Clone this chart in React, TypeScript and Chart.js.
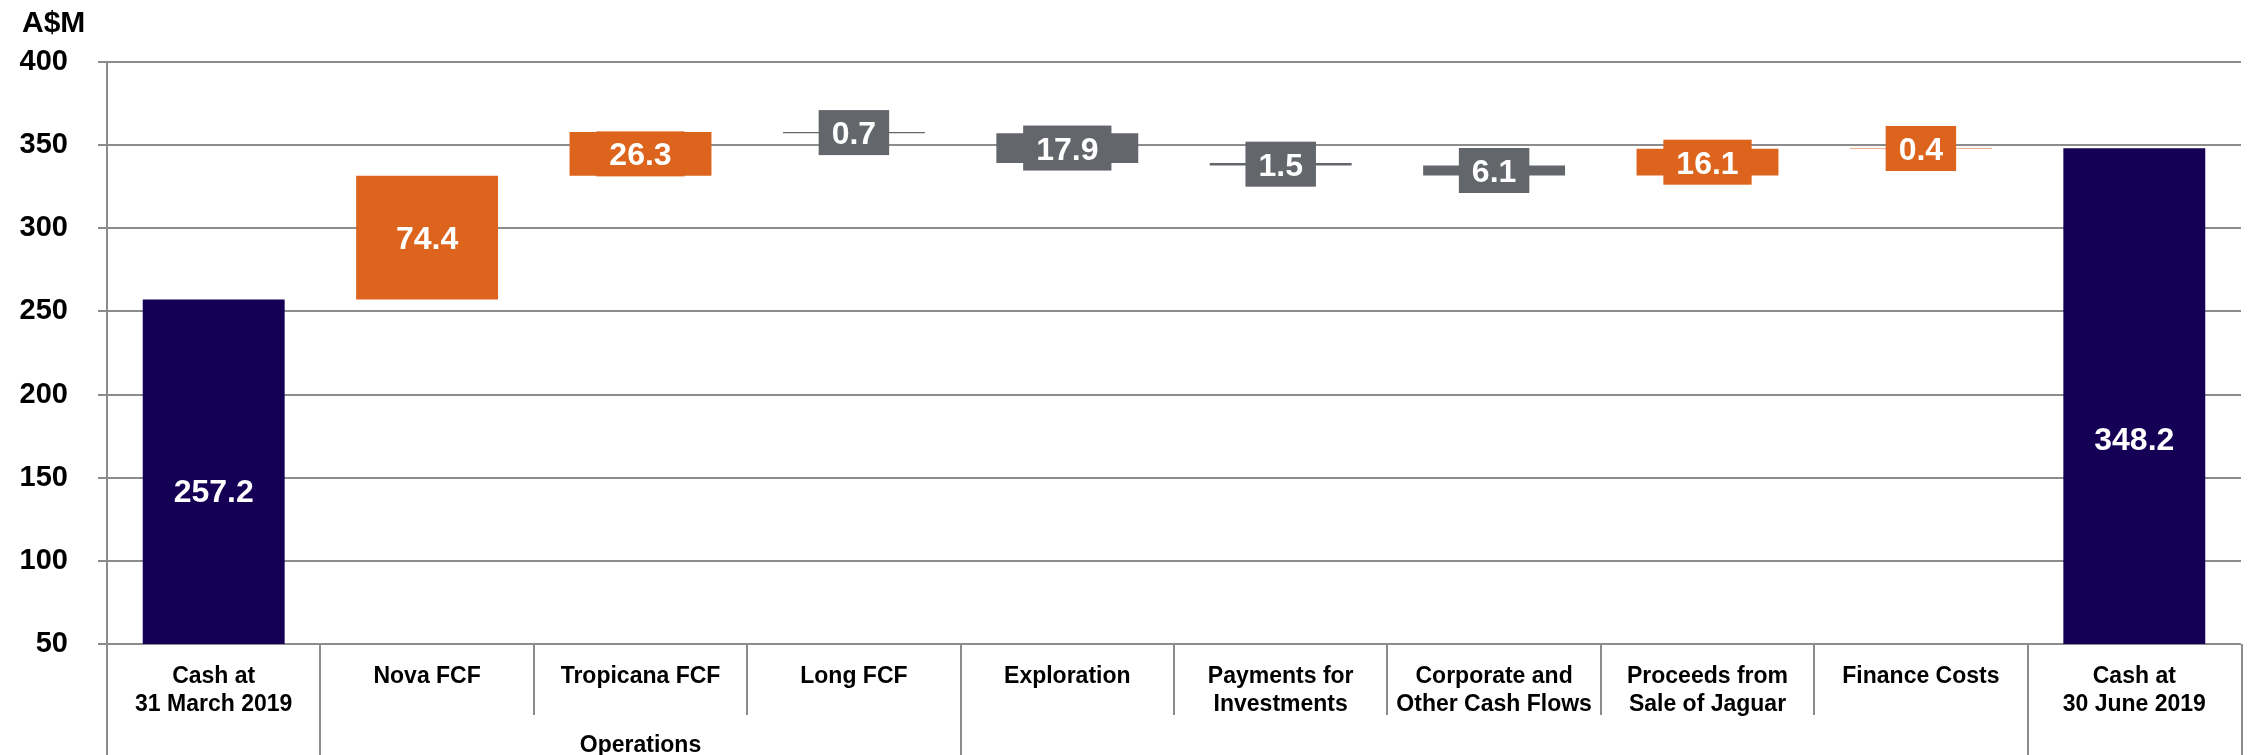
import React, { useEffect, useRef } from "react";
import { Chart, registerables } from "chart.js";

Chart.register(...registerables);

const categories: string[][] = [
  ["Cash at", "31 March 2019"],
  ["Nova FCF"],
  ["Tropicana FCF"],
  ["Long FCF"],
  ["Exploration"],
  ["Payments for", "Investments"],
  ["Corporate and", "Other Cash Flows"],
  ["Proceeds from", "Sale of Jaguar"],
  ["Finance Costs"],
  ["Cash at", "30 June 2019"],
];
const openingCash = 257.2;
const cashFlows = [74.4, 26.3, -0.7, -17.9, -1.5, -6.1, 16.1, 0.4];
const closingCash = 348.2;
// value (A$M) at which the labels of the two cash bars sit
const totalLabelAt = [142.3, 173.3];
const groupLabels = ["Operations"];
const groupStart = [1];
const groupEnd = [3];
const yTicks = { min: 50, max: 400, step: 50 };
const unitLabel = "A$M";

const NAVY = "#150056";
const ORANGE = "#dd641d";
const GREY = "#63666a";
const LINE = "#8c8c8c";
const FONT = "'Liberation Sans', Arial, sans-serif";

function buildBars() {
  const bars: [number, number][] = [[0, openingCash]];
  const colors: string[] = [NAVY];
  const values: number[] = [openingCash];
  let run = openingCash;
  for (const f of cashFlows) {
    const next = Math.round((run + f) * 10) / 10;
    bars.push([run, next]);
    colors.push(f >= 0 ? ORANGE : GREY);
    values.push(Math.abs(f));
    run = next;
  }
  bars.push([0, closingCash]);
  colors.push(NAVY);
  values.push(closingCash);
  return { bars, colors, values };
}

export default function App() {
  const ref = useRef<HTMLCanvasElement | null>(null);
  useEffect(() => {
    const canvas = ref.current!;
    const { bars, colors, values } = buildBars();
    const n = categories.length;

    const plugin = {
      id: "waterfallDecor",
      afterDatasetsDraw(chart: any) {
        const ctx = chart.ctx as CanvasRenderingContext2D;
        const area = chart.chartArea;
        const xs = chart.scales.x;
        const ys = chart.scales.y;
        const meta = chart.getDatasetMeta(0);
        ctx.save();
        // value labels
        const fs = 32;
        ctx.font = `bold ${fs}px ${FONT}`;
        ctx.textAlign = "center";
        ctx.textBaseline = "alphabetic";
        meta.data.forEach((el: any, i: number) => {
          const txt = values[i].toFixed(1);
          let cy: number;
          const isTotal = i === 0 || i === n - 1;
          if (isTotal) {
            cy = ys.getPixelForValue(totalLabelAt[i === 0 ? 0 : 1]);
          } else {
            cy = (el.y + el.base) / 2;
            const w = ctx.measureText(txt).width + 26;
            const h = 45;
            ctx.fillStyle = colors[i];
            ctx.fillRect(el.x - w / 2, cy - h / 2, w, h);
          }
          ctx.fillStyle = "#ffffff";
          ctx.fillText(txt, el.x, cy + fs * 0.716 / 2);
        });

        // axis line & separators below plot
        ctx.strokeStyle = LINE;
        ctx.lineWidth = 2;
        const H = chart.height;
        const bottom = area.bottom;
        const bound = (k: number) => {
          if (k <= 0) return area.left;
          if (k >= n) return area.right + 1;
          return (xs.getPixelForValue(k - 1) + xs.getPixelForValue(k)) / 2;
        };
        const longs = new Set<number>([0, n]);
        groupStart.forEach((s, g) => {
          longs.add(s);
          longs.add(groupEnd[g] + 1);
        });
        longs.add(n - 1);
        ctx.beginPath();
        ctx.moveTo(area.left, area.top);
        ctx.lineTo(area.left, H);
        ctx.stroke();
        for (let k = 1; k <= n; k++) {
          const x = Math.round(bound(k));
          ctx.beginPath();
          ctx.moveTo(x, bottom);
          ctx.lineTo(x, longs.has(k) ? H : 715);
          ctx.stroke();
        }

        // category labels
        const cf = 23;
        ctx.fillStyle = "#000000";
        ctx.font = `bold ${cf}px ${FONT}`;
        categories.forEach((lines, i) => {
          const x = xs.getPixelForValue(i);
          lines.forEach((ln, j) => {
            const cy = 675 + j * 28;
            ctx.fillText(ln, x, cy + cf * 0.716 / 2);
          });
        });
        groupLabels.forEach((g, k) => {
          const x = (bound(groupStart[k]) + bound(groupEnd[k] + 1)) / 2;
          ctx.fillText(g, x, 744 + cf * 0.716 / 2);
        });

        // unit label
        ctx.textAlign = "left";
        ctx.font = `bold 30px ${FONT}`;
        ctx.fillText(unitLabel, 22, 32);
        ctx.restore();
      },
    };

    const chart = new Chart(canvas, {
      type: "bar",
      data: {
        labels: categories.map((c) => c.join(" ")),
        datasets: [
          {
            data: bars as any,
            backgroundColor: colors,
            borderWidth: 0,
            barPercentage: 0.665,
            categoryPercentage: 1,
          },
        ],
      },
      options: {
        responsive: false,
        animation: false,
        devicePixelRatio: 1,
        layout: { padding: { top: 62, right: 7, bottom: 111, left: 0 } },
        plugins: {
          legend: { display: false },
          tooltip: { enabled: false },
        },
        scales: {
          x: { display: false },
          y: {
            min: yTicks.min,
            max: yTicks.max,
            afterFit: (s: any) => {
              s.width = 107;
            },
            ticks: {
              stepSize: yTicks.step,
              padding: 30,
              color: "#000000",
              font: { family: FONT, size: 29, weight: "bold" },
            },
            grid: {
              color: LINE,
              lineWidth: 2,
              tickLength: 9,
              drawTicks: true,
            },
            border: { display: false },
          },
        },
      },
      plugins: [plugin],
    });
    return () => chart.destroy();
  }, []);

  return (
    <div style={{ position: "fixed", left: 0, top: 0, width: 2248, height: 755, background: "#fff" }}>
      <canvas ref={ref} width={2248} height={755} style={{ width: 2248, height: 755, display: "block" }} />
    </div>
  );
}
